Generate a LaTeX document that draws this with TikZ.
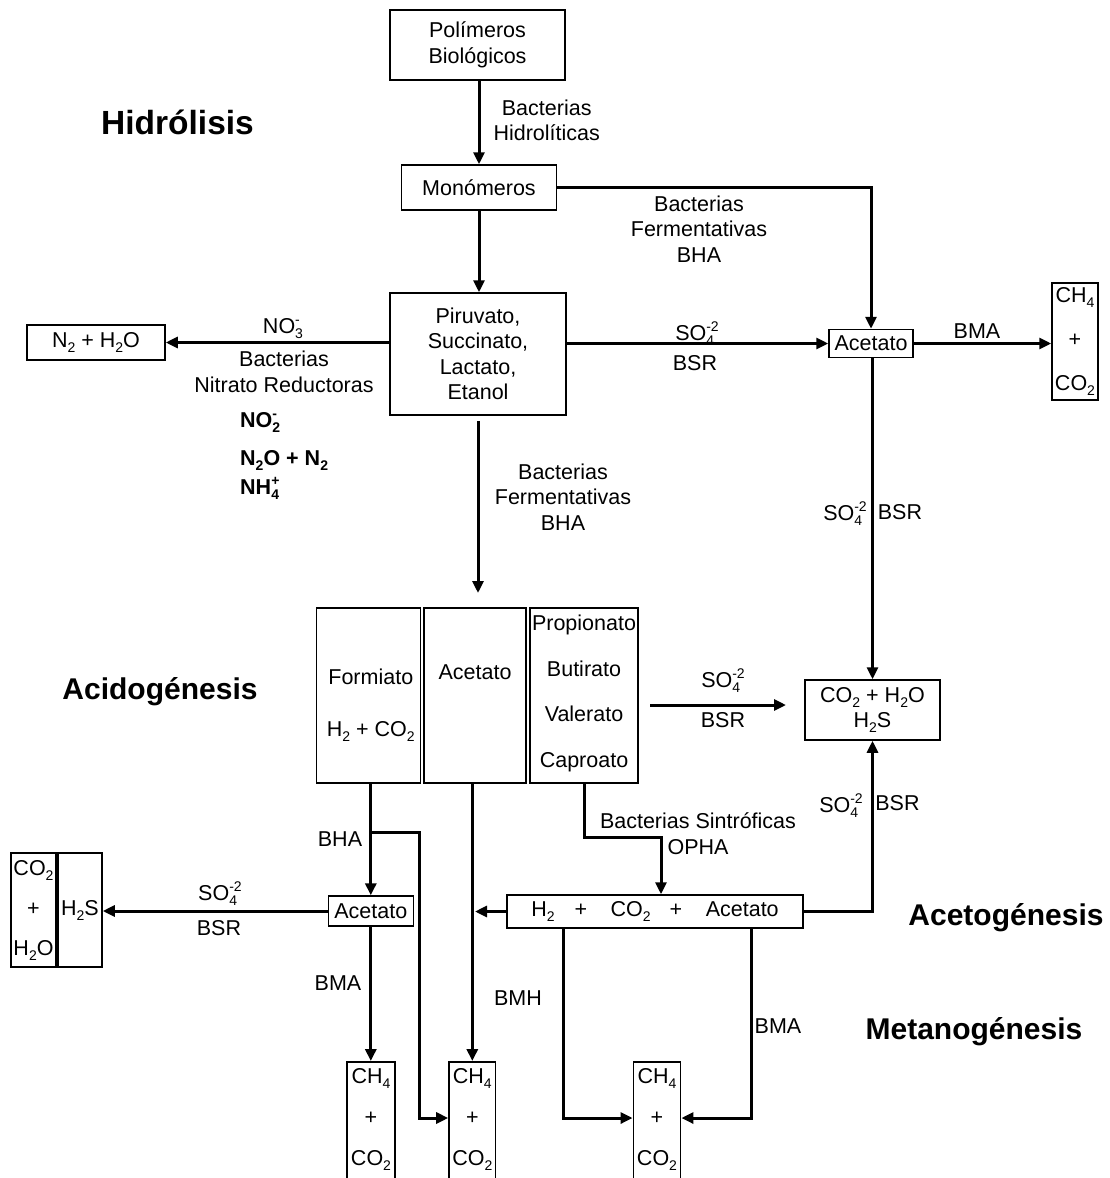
\documentclass[tikz,border=0pt]{standalone}
\usepackage{fontspec}
\setmainfont{Liberation Sans}
\usetikzlibrary{arrows.meta}
\newbox\chA \newbox\chB
\newcommand\chsub[1]{\raisebox{-5pt}{\fontsize{14}{14}\selectfont #1}}
\newcommand\chsup[1]{\raisebox{9pt}{\fontsize{14}{14}\selectfont #1}}
\newcommand\chss[2]{\setbox\chA=\hbox{\chsup{#1}}\setbox\chB=\hbox{\chsub{#2}}\ifdim\wd\chA>\wd\chB\rlap{\box\chB}\box\chA\else\rlap{\box\chA}\box\chB\fi}
\tikzset{
  box/.style={draw, line width=1.5pt, inner sep=0pt, align=center, font=\fontsize{21.5}{25.5}\selectfont},
  txt/.style={inner sep=0pt, align=center, font=\fontsize{21.5}{25.5}\selectfont},
  btxt/.style={inner sep=0pt, font=\fontsize{21.5}{25.5}\selectfont\bfseries},
  ttl/.style={inner sep=0pt, anchor=base, font=\fontsize{30}{36}\selectfont\bfseries},
  arr/.style={line width=3pt, -{Triangle[length=12pt,width=11pt]}},
}
\begin{document}
\begin{tikzpicture}[x=1pt,y=-1pt]
\useasboundingbox (0,0) rectangle (1110,1178);
\clip (0,0) rectangle (1110,1178);
% --- boxes
\node[box, minimum width=175, minimum height=70] (poli) at (477.5,45) {Polímeros\\Biológicos};
\node[box, minimum width=155, minimum height=45] (mono) at (479,187.5) {Monómeros};
\node[box, minimum width=176, minimum height=122] (pir) at (478,354) {Piruvato,\\Succinato,\\Lactato,\\Etanol};
\node[box, minimum width=138, minimum height=35] (nh) at (96,342.5) {N\chsub{2} + H\chsub{2}O};
\node[box, minimum width=84, minimum height=28] (ac1) at (871,343.5) {Acetato};
\node[box, minimum width=46, minimum height=117, font=\fontsize{21.5}{44}\selectfont] (m1) at (1075,341.5) {CH\chsub{4}\\+\\CO\chsub{2}};
\node[box, minimum width=104, minimum height=175] (fo) at (368.6,695.5) {};
\node[box, minimum width=102, minimum height=175] (ace) at (475.2,695.5) {};
\node[box, minimum width=108, minimum height=175] (pro) at (584,695.5) {};
\node[txt] at (370.8,676.7) {Formiato};
\node[txt] at (370.8,731) {H\chsub{2} + CO\chsub{2}};
\node[txt] at (475,671.7) {Acetato};
\node[txt, font=\fontsize{21.5}{45.7}\selectfont] at (584,693.5) {Propionato\\Butirato\\Valerato\\Caproato};
\node[box, minimum width=135, minimum height=60, font=\fontsize{21.5}{25}\selectfont] (co) at (872.5,710) {CO\chsub{2} + H\chsub{2}O\\H\chsub{2}S};
\node[box, minimum width=296, minimum height=33] (hb) at (655,911.5) {H\chsub{2}\hspace{20pt}+\hspace{23.5pt}CO\chsub{2}\hspace{19pt}+\hspace{23.5pt}Acetato};
\node[box, minimum width=85, minimum height=30] (ac2) at (370.8,911) {Acetato};
\node[box, minimum width=45, minimum height=114, font=\fontsize{21.5}{40}\selectfont] (hl) at (33.5,910) {CO\chsub{2}\\+\\H\chsub{2}O};
\node[box, minimum width=44, minimum height=114] (hr) at (80,910) {H\chsub{2}S};
\node[box, minimum width=47.7, minimum height=150, anchor=north] (b1) at (371,1061) {};
\node[box, minimum width=46.7, minimum height=150, anchor=north] (b2) at (472.3,1061) {};
\node[box, minimum width=47.4, minimum height=150, anchor=north] (b3) at (657,1061) {};
\node[txt, font=\fontsize{21.5}{41}\selectfont] at (371,1119) {CH\chsub{4}\\+\\CO\chsub{2}};
\node[txt, font=\fontsize{21.5}{41}\selectfont] at (472.3,1119) {CH\chsub{4}\\+\\CO\chsub{2}};
\node[txt, font=\fontsize{21.5}{41}\selectfont] at (657,1119) {CH\chsub{4}\\+\\CO\chsub{2}};
% --- titles
\node[ttl, font=\fontsize{33.5}{40}\selectfont\bfseries] at (177.5,134) {Hidrólisis};
\node[ttl] at (160,699) {Acidogénesis};
\node[ttl] at (1006,925) {Acetogénesis};
\node[ttl] at (974,1039) {Metanogénesis};
% --- coordinates
\coordinate (t1) at (478,593);
\coordinate (s1) at (650,705);
\coordinate (s2) at (786,705);
\coordinate (br) at (370.8,832);
\coordinate (k1) at (419,1118);
\coordinate (k2) at (661,837);
\coordinate (k3) at (475,911.5);
\coordinate (k4) at (563,1118);
\coordinate (k5) at (751,1118);
% --- connectors
\draw[arr] (poli.south -| mono.north) -- (mono.north);
\node[txt] at (546.7,120.5) {Bacterias\\Hidrolíticas};
\draw[arr] (mono.east) -| (ac1.north);
\node[txt] at (699,229) {Bacterias\\Fermentativas\\BHA};
\draw[arr] (mono.south) -- (mono.south |- pir.north);
\draw[arr] (pir.west |- nh.east) -- (nh.east);
\node[txt, anchor=base] at (283,333) {NO\chss{-}{3}};
\node[txt] at (284,372) {Bacterias\\Nitrato Reductoras};
\node[btxt, anchor=base west] at (240,427) {NO\chss{-}{2}};
\node[btxt, anchor=base west] at (240,465) {N\chsub{2}O + N\chsub{2}};
\node[btxt, anchor=base west] at (240,494) {NH\chss{+}{4}};
\draw[arr] (pir.east |- ac1.west) -- (ac1.west);
\node[txt, anchor=base] at (697,340) {SO\chss{-2}{4}};
\node[txt] at (695,363) {BSR};
\draw[arr] (ac1.east) -- (ac1.east -| m1.west);
\node[txt] at (977,331) {BMA};
\draw[arr] (co.north |- ac1.south) -- (co.north);
\node[txt, anchor=base] at (845,520) {SO\chss{-2}{4}};
\node[txt] at (900,512) {BSR};
\draw[arr, shorten <=5pt] (pir.south) -- (t1);
\node[txt] at (563,497) {Bacterias\\Fermentativas\\BHA};
\draw[arr] (s1) -- (s2);
\node[txt, anchor=base] at (723,687) {SO\chss{-2}{4}};
\node[txt] at (723,720) {BSR};
\draw[arr] (fo.south -| ac2.north) -- (ac2.north);
\draw[arr] (br) -| (k1) -- (k1 -| b2.west);
\node[txt] at (340,839) {BHA};
\draw[arr] (ace.south -| b2.north) -- (b2.north);
\node[txt] at (518,998) {BMH};
\draw[arr] (pro.south) |- (k2) -- (k2 |- hb.north);
\node[txt] at (698,833.7) {Bacterias Sintróficas\\OPHA};
\draw[arr] (hb.west) -- (k3);
\draw[arr] (hb.east) -| (co.south);
\node[txt, anchor=base] at (841,812) {SO\chss{-2}{4}};
\node[txt] at (897.5,803) {BSR};
\draw[arr] (ac2.west) -- (ac2.west -| hr.east);
\node[txt, anchor=base] at (220,900) {SO\chss{-2}{4}};
\node[txt] at (219,928) {BSR};
\draw[arr] (ac2.south) -- (ac2.south |- b1.north);
\node[txt] at (338,983) {BMA};
\draw[arr] (hb.south -| k4) -- (k4) -- (k4 -| b3.west);
\draw[arr] (hb.south -| k5) -- (k5) -- (k5 -| b3.east);
\node[txt] at (778,1026) {BMA};
\end{tikzpicture}
\end{document}
